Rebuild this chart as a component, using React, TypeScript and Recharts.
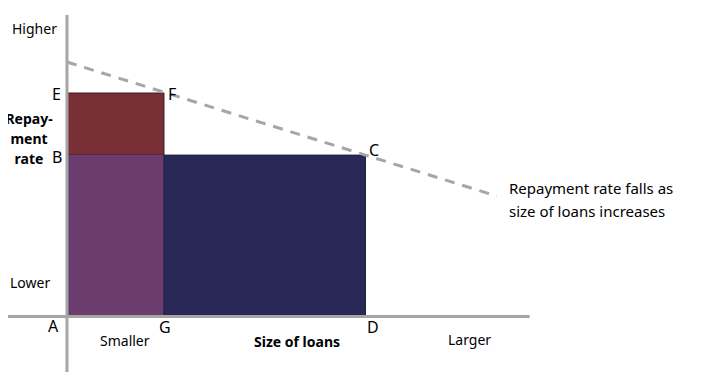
import React from "react";
import {
  ComposedChart,
  XAxis,
  YAxis,
  Line,
  ReferenceArea,
  ReferenceLine,
} from "recharts";

// loan size positions: A, G, D
const LOAN_POINTS = [0, 0.975, 3];
// repayment rate levels: A, B, E
const RATE_POINTS = [0, 65, 90];
// dashed trend line (repayment rate falls as size of loans increases)
const TREND_X = [0, 4.32];
const TREND_Y = [102.5, 48.5];
// axis extents
const X_AXIS_RANGE = [-0.673, 4.65];
const Y_AXIS_RANGE = [-24.8, 121.4];

const trendData = TREND_X.map((x, i) => ({ x, y: TREND_Y[i] }));

const W = 701;
const H = 380;
const FONT = "'Noto Sans', 'Open Sans', sans-serif";

const Label = ({
  x,
  y,
  children,
  size = 14,
  bold = false,
  align = "left",
}: {
  x: number;
  y: number;
  children: React.ReactNode;
  size?: number;
  bold?: boolean;
  align?: "left" | "center";
}) => (
  <div
    style={{
      position: "absolute",
      left: align === "center" ? x - 60 : x,
      width: align === "center" ? 120 : undefined,
      top: y,
      fontSize: size,
      fontWeight: bold ? 700 : 400,
      fontFamily: FONT,
      color: "#000",
      lineHeight: 1.3,
      whiteSpace: "nowrap",
      textAlign: align,
    }}
  >
    {children}
  </div>
);

export default function App() {
  const [A, G, D] = LOAN_POINTS;
  const [, B, E] = RATE_POINTS;
  return (
    <div style={{ position: "relative", width: W, height: H, margin: -8, background: "#fff" }}>
      <ComposedChart
        width={W}
        height={H}
        data={trendData}
        margin={{ top: 0, right: 0, bottom: 0, left: 0 }}
      >
        <XAxis dataKey="x" type="number" domain={[-0.673, 6.372]} hide />
        <YAxis type="number" domain={[-25.57, 127.46]} hide />

        <ReferenceArea x1={A} x2={G} y1={B} y2={E} fill="#782f36" fillOpacity={1} stroke="#3b1a24" strokeWidth={1} />
        <ReferenceArea x1={A} x2={G} y1={0} y2={B} fill="#6a3d6e" fillOpacity={1} />
        <ReferenceArea x1={G} x2={D} y1={0} y2={B} fill="#2a2856" fillOpacity={1} stroke="#1e1c40" strokeWidth={1} />

        <ReferenceLine
          segment={[{ x: 0, y: Y_AXIS_RANGE[0] }, { x: 0, y: Y_AXIS_RANGE[1] }]}
          stroke="#a6a6a6"
          strokeWidth={3}
        />
        <ReferenceLine
          segment={[{ x: X_AXIS_RANGE[0], y: 0 }, { x: X_AXIS_RANGE[1], y: 0 }]}
          stroke="#a6a6a6"
          strokeWidth={3}
        />

        <Line
          type="linear"
          dataKey="y"
          stroke="#a6a6a6"
          strokeWidth={3}
          strokeDasharray="10 8"
          dot={false}
          activeDot={false}
          isAnimationActive={false}
        />
      </ComposedChart>

      <Label x={12} y={20}>Higher</Label>
      <Label x={10} y={274}>Lower</Label>
      <Label x={29} y={110} bold align="center">Repay-</Label>
      <Label x={29} y={130} bold align="center">ment</Label>
      <Label x={29} y={150} bold align="center">rate</Label>

      <Label x={52} y={84} size={16}>E</Label>
      <Label x={52} y={147} size={16}>B</Label>
      <Label x={168} y={84} size={16}>F</Label>
      <Label x={369} y={140} size={16}>C</Label>
      <Label x={48} y={316} size={16}>A</Label>
      <Label x={159} y={317} size={16}>G</Label>
      <Label x={367} y={317} size={16}>D</Label>

      <Label x={100} y={332}>Smaller</Label>
      <Label x={254} y={333} bold>Size of loans</Label>
      <Label x={448} y={331}>Larger</Label>

      <Label x={509} y={179} size={15}>Repayment rate falls as</Label>
      <Label x={509} y={202} size={15}>size of loans increases</Label>
    </div>
  );
}
